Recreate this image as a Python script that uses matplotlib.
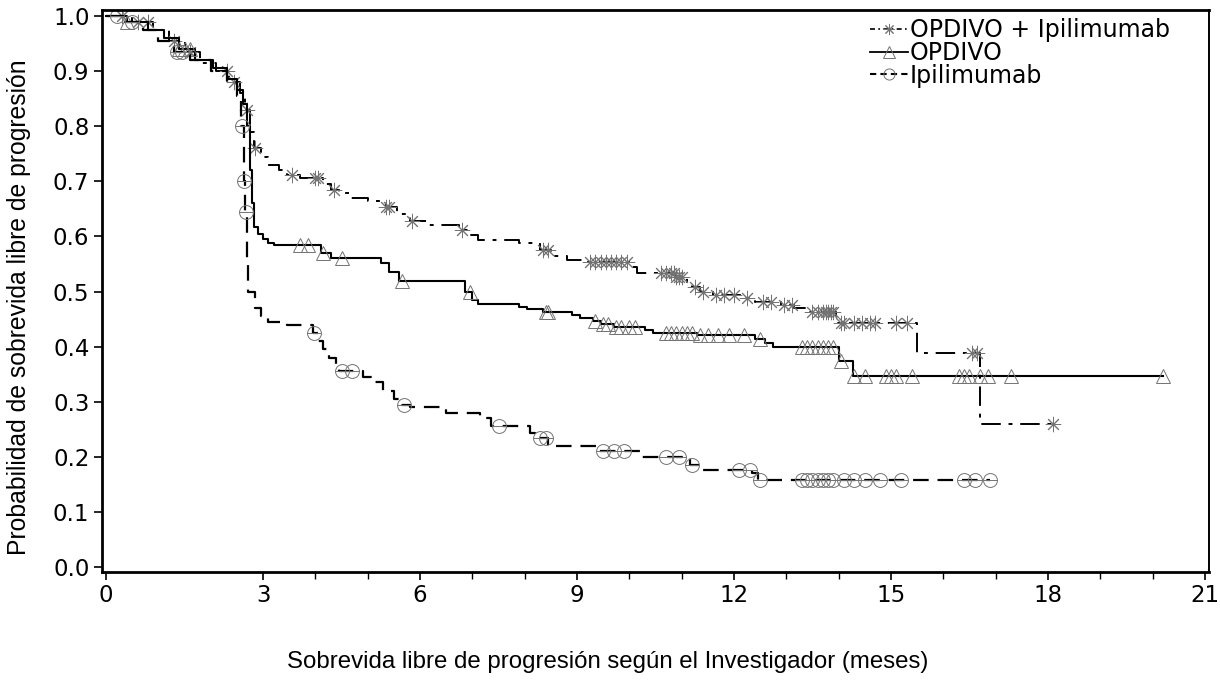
import numpy as np
import matplotlib
matplotlib.use('Agg')
import matplotlib.pyplot as plt
from matplotlib.lines import Line2D

# step curves: time of each drop (months) and survival after it
combo_t = [0, 0.5, 0.9, 1.2, 1.5, 1.8, 2.1, 2.35, 2.55, 2.65, 2.75, 2.82, 2.95, 3.1, 3.3, 3.45,
           3.7, 4.15, 4.3, 4.45, 4.65, 5.0, 5.35, 5.55, 5.8, 6.15, 6.75, 6.95, 7.1, 7.9, 8.3,
           8.5, 8.8, 9.2, 10.05, 10.15, 10.9, 11.1, 11.2, 11.35, 11.6, 12.2, 12.4, 12.9, 13.15,
           13.4, 13.95, 15.5, 16.7]
combo_s = [1.0, 0.99, 0.975, 0.955, 0.935, 0.915, 0.9, 0.88, 0.86, 0.83, 0.79, 0.76, 0.745, 0.73,
           0.72, 0.711, 0.706, 0.695, 0.685, 0.678, 0.67, 0.664, 0.653, 0.64, 0.628, 0.621, 0.612,
           0.603, 0.594, 0.588, 0.575, 0.565, 0.557, 0.554, 0.545, 0.534, 0.527, 0.515, 0.508,
           0.5, 0.494, 0.488, 0.481, 0.476, 0.47, 0.463, 0.443, 0.388, 0.26]
combo_end = 18.1
combo_cens = [0.3, 0.6, 0.8, 1.3, 1.6, 2.3, 2.45, 2.7, 2.85, 3.55, 4.0, 4.05, 4.35, 5.35, 5.4, 5.85,
              6.8, 8.35, 8.45, 9.25, 9.35, 9.45, 9.55, 9.65, 9.75, 9.85, 9.95, 10.6, 10.7, 10.8,
              10.85, 10.9, 10.95, 11.0, 11.25, 11.4, 11.65, 11.8, 12.0, 12.25, 12.55, 12.7, 12.95,
              13.1, 13.5, 13.6, 13.7, 13.75, 13.8, 13.85, 13.9, 14.05, 14.1, 14.3, 14.45, 14.6,
              14.7, 15.1, 15.3, 16.55, 16.65, 18.1]

nivo_t = [0, 0.4, 0.8, 1.1, 1.4, 1.7, 2.05, 2.3, 2.5, 2.62, 2.7, 2.74, 2.78, 2.82, 2.9, 3.0, 3.1,
          3.2, 4.1, 4.3, 5.25, 5.4, 5.6, 6.85, 7.0, 7.1, 7.9, 8.05, 8.35, 8.9, 9.05, 9.3, 9.45,
          9.7, 10.3, 10.45, 11.3, 12.4, 12.6, 12.75, 14.0, 14.28]
nivo_s = [1.0, 0.99, 0.975, 0.96, 0.94, 0.92, 0.905, 0.885, 0.865, 0.84, 0.8, 0.72, 0.66, 0.617,
          0.605, 0.595, 0.588, 0.584, 0.57, 0.561, 0.552, 0.535, 0.52, 0.5, 0.485, 0.477, 0.472,
          0.468, 0.463, 0.457, 0.452, 0.447, 0.442, 0.436, 0.43, 0.425, 0.421, 0.414, 0.406, 0.4,
          0.374, 0.347]
nivo_end = 20.2
nivo_cens = [0.4, 1.4, 1.5, 1.6, 3.7, 3.85, 4.15, 4.5, 5.65, 6.95, 8.4, 8.45, 9.35, 9.5, 9.6, 9.75,
             9.85, 10.0, 10.1, 10.7, 10.8, 10.9, 11.0, 11.1, 11.2, 11.35, 11.5, 11.7, 11.9, 12.2,
             12.5, 13.3, 13.4, 13.5, 13.6, 13.7, 13.8, 13.9, 14.05, 14.3, 14.5, 14.9, 15.0, 15.1,
             15.4, 16.3, 16.4, 16.5, 16.7, 16.85, 17.3, 20.2]

ipi_t = [0, 0.3, 0.7, 1.0, 1.3, 1.6, 2.0, 2.3, 2.5, 2.58, 2.63, 2.66, 2.69, 2.72, 2.85, 2.95, 3.1,
         3.45, 3.95, 4.05, 4.15, 4.25, 4.4, 4.45, 4.9, 5.1, 5.3, 5.5, 5.65, 5.8, 6.5, 7.15, 7.35,
         8.1, 8.2, 8.45, 9.4, 10.2, 11.15, 11.4, 12.35, 12.45]
ipi_s = [1.0, 0.99, 0.975, 0.955, 0.935, 0.92, 0.9, 0.88, 0.855, 0.8, 0.7, 0.645, 0.55, 0.5, 0.47,
         0.455, 0.445, 0.44, 0.425, 0.41, 0.395, 0.38, 0.365, 0.355, 0.345, 0.335, 0.32, 0.305,
         0.295, 0.29, 0.28, 0.27, 0.256, 0.243, 0.234, 0.22, 0.21, 0.2, 0.185, 0.176, 0.17, 0.158]
ipi_end = 16.9
ipi_cens = [0.2, 0.5, 1.35, 1.45, 2.6, 2.64, 2.67, 3.97, 4.5, 4.7, 5.7, 7.5, 8.3, 8.4, 9.5, 9.7,
            9.9, 10.7, 10.95, 11.2, 12.1, 12.3, 12.5, 13.3, 13.4, 13.5, 13.6, 13.7, 13.8, 13.9,
            14.1, 14.3, 14.5, 14.8, 15.2, 16.4, 16.6, 16.9]

labels = ['OPDIVO + Ipilimumab', 'OPDIVO', 'Ipilimumab']


def at(times, surv, cens):
    idx = np.searchsorted(times, cens, side='right') - 1
    return np.array(surv)[idx]


fig = plt.figure(figsize=(12.2, 6.87), dpi=100)
ax = fig.add_axes([0.0836, 0.1674, 0.9074, 0.818])

mk = dict(ls='none', mfc='none', color='0.45', mew=0.7)

# OPDIVO + Ipilimumab
ct = combo_t + [combo_end]
cs = combo_s + [combo_s[-1]]
ax.step(ct, cs, where='post', color='black', lw=1.4, ls=(0, (10, 4, 2, 4)))
ax.plot(combo_cens, at(combo_t, combo_s, combo_cens), marker=(8, 2, 0), ms=11, **mk)

# OPDIVO
nt = nivo_t + [nivo_end]
ns = nivo_s + [nivo_s[-1]]
ax.step(nt, ns, where='post', color='black', lw=1.5)
ax.plot(nivo_cens, at(nivo_t, nivo_s, nivo_cens), marker='^', ms=10, **mk)

# Ipilimumab
it = ipi_t + [ipi_end]
iss = ipi_s + [ipi_s[-1]]
ax.step(it, iss, where='post', color='black', lw=1.6, ls=(0, (7, 4)))
iy = at(ipi_t, ipi_s, ipi_cens)
ax.plot(ipi_cens, iy, marker='o', ms=10, **mk)
ax.plot(ipi_cens, iy, marker='_', ms=10, **mk)

ax.set_xlim(-0.08, 21.08)
ax.set_ylim(-0.009, 1.011)
ax.set_xticks(np.arange(0, 22, 3))
ax.set_xticks([4, 5, 7, 8, 10, 11, 13, 14, 16, 17, 19, 20], minor=True)
ax.set_yticks(np.arange(0, 1.01, 0.1))
ax.set_yticklabels(['%.1f' % v for v in np.arange(0, 1.01, 0.1)])
ax.tick_params(axis='both', which='major', labelsize=16.5, length=6, width=1.2, pad=3)
ax.tick_params(axis='x', which='minor', length=5, width=1)
for s in ['left', 'bottom', 'top']:
    ax.spines[s].set_linewidth(2)
ax.spines['right'].set_linewidth(1.4)

ax.set_xlabel('Sobrevida libre de progresión según el Investigador (meses)',
              family='Liberation Sans', fontsize=17.3)
ax.set_ylabel('Probabilidad de sobrevida libre de progresión',
              family='Liberation Sans', fontsize=17.8)
ax.xaxis.set_label_coords(0.457, -0.141)
ax.yaxis.set_label_coords(-0.064, 0.471)

handles = [
    Line2D([], [], color='black', lw=1.2, ls=(0, (3, 2, 1, 2)), marker=(8, 2, 0), ms=8, mec='0.45', mew=0.7),
    Line2D([], [], color='black', lw=1.3, marker='^', ms=8, mfc='none', mec='0.45', mew=0.7),
    Line2D([], [], color='black', lw=1.5, ls=(0, (3, 2)), marker='o', ms=8, mfc='none', mec='0.45', mew=0.7),
]
ax.legend(handles, labels, loc='upper left', bbox_to_anchor=(0.683, 1.006), frameon=False,
          fontsize=17, handlelength=1.6, handletextpad=0.1, labelspacing=-0.06, borderpad=0)

fig.savefig('out.png', dpi=100)
